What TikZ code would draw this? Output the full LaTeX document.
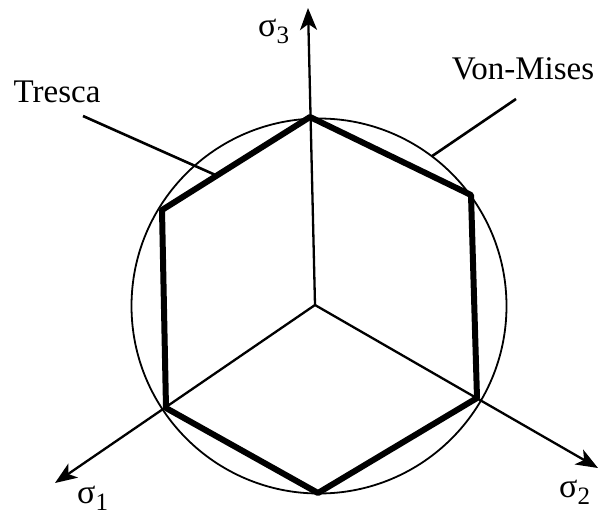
\documentclass[tikz,border=0pt]{standalone}
\usepackage{fontspec}
\setmainfont{Liberation Serif}
\usepackage{tikz}
\usetikzlibrary{arrows.meta, positioning, calc}

\begin{document}
\begin{tikzpicture}[
  x=1pt, y=-1pt,
  axis/.style={-{Stealth[length=22pt, width=17pt, inset=6pt]}, line width=2.3pt},
  tresca/.style={line width=6pt, line cap=round, line join=round},
  mises/.style={draw, circle, line width=1.8pt, minimum size=375pt,
                inner sep=0pt, outer sep=0pt},
  leader/.style={line width=2.6pt},
  lbl/.style={font=\fontsize{33}{40}\selectfont, inner sep=0pt},
  sig/.style={font=\fontsize{34}{40}\selectfont, inner sep=0pt, anchor=base west}
]
\newcommand{\sigsub}[1]{σ\raisebox{-7pt}{\fontsize{25}{30}\selectfont #1}}

\path[use as bounding box, fill=white] (0,0) rectangle (601,516);

% origin, axis tips and hexagon corners
\coordinate (O)    at (315,305);
\coordinate (tip3) at (308,8);
\coordinate (tip1) at (55,483);
\coordinate (tip2) at (598,468);
\coordinate (top)  at (310,117);
\coordinate (UR)   at (471,195);
\coordinate (LR)   at (477,398);
\coordinate (bot)  at (318,493);
\coordinate (LL)   at (166,408);
\coordinate (UL)   at (162,210);

\node[mises] (vm) at (319,306) {};

\draw[axis] (O) -- (tip3);
\draw[axis] (O) -- (tip1);
\draw[axis] (O) -- (tip2);

\draw[tresca] (top) -- (UR) -- (LR) -- (bot) -- (LL) -- (UL) -- cycle;

\node[sig] (s3) at (258,37)  {\sigsub{3}};
\node[sig] (s1) at (77,503)  {\sigsub{1}};
\node[sig] (s2) at (559,497) {\sigsub{2}};

\node[lbl] (trescaLbl) at (57,92)  {Tresca};
\node[lbl] (misesLbl)  at (523,69) {Von-Mises};

\coordinate (trescaTail) at (83,116);
\coordinate (misesTail)  at (516,99);
\draw[leader] (trescaTail) -- ($(UL)!0.37!(top)$);
\draw[leader] (misesTail) -- (vm.53);

\end{tikzpicture}
\end{document}
